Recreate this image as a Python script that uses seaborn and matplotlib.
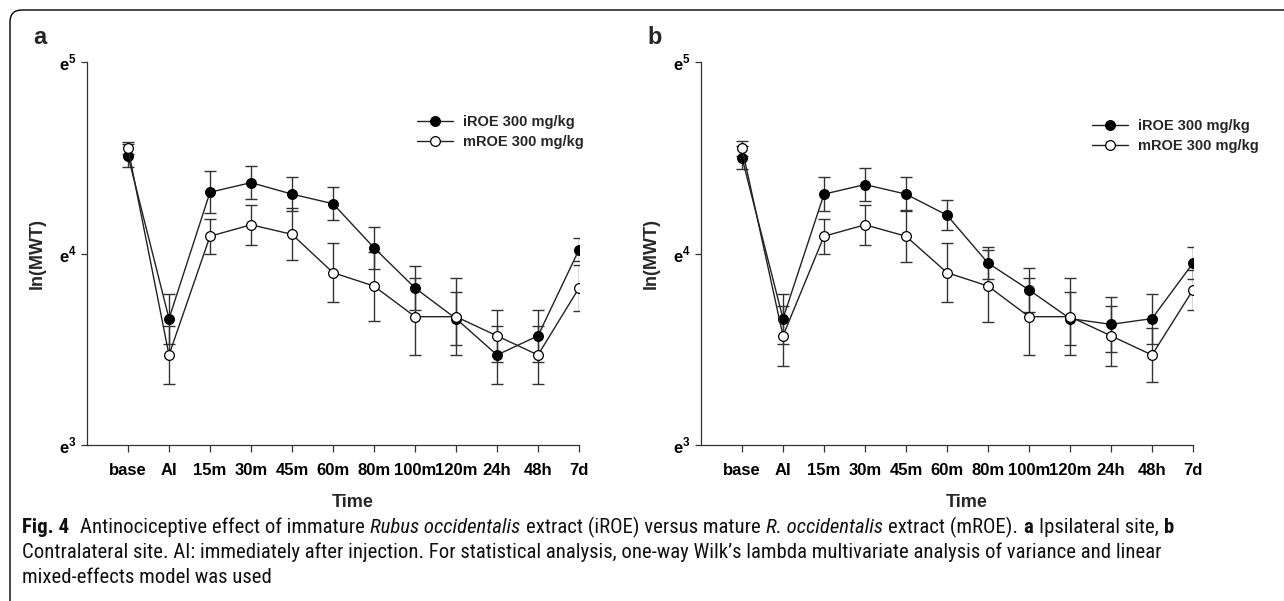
import matplotlib
matplotlib.use("Agg")
import matplotlib.pyplot as plt
import matplotlib.patches as mpatches
import matplotlib.transforms as mtransforms
from matplotlib.path import Path
from matplotlib import font_manager
import seaborn as sns

# time points on the x axis
times = ["base", "AI", "15m", "30m", "45m", "60m", "80m", "100m", "120m", "24h", "48h", "7d"]

# panel a: ipsilateral site, values in ln(MWT) units
a_iroe = [4.51, 3.66, 4.32, 4.37, 4.31, 4.26, 4.03, 3.82, 3.66, 3.47, 3.57, 4.02]
a_iroe_err = [0.06, 0.13, 0.11, 0.085, 0.09, 0.085, 0.11, 0.113, 0.14, 0.15, 0.135, 0.06]
a_mroe = [4.55, 3.47, 4.09, 4.15, 4.10, 3.90, 3.83, 3.67, 3.67, 3.57, 3.47, 3.82]
a_mroe_err = [0.03, 0.15, 0.09, 0.105, 0.135, 0.155, 0.18, 0.20, 0.20, 0.135, 0.15, 0.12]

# panel b: contralateral site
b_iroe = [4.50, 3.66, 4.31, 4.36, 4.31, 4.20, 3.95, 3.81, 3.66, 3.63, 3.66, 3.95]
b_iroe_err = [0.06, 0.13, 0.087, 0.085, 0.089, 0.078, 0.085, 0.115, 0.14, 0.145, 0.13, 0.085]
b_mroe = [4.55, 3.57, 4.09, 4.15, 4.09, 3.90, 3.83, 3.67, 3.67, 3.57, 3.47, 3.81]
b_mroe_err = [0.04, 0.155, 0.09, 0.105, 0.136, 0.153, 0.186, 0.20, 0.20, 0.157, 0.14, 0.105]

series_names = ["iROE 300 mg/kg", "mROE 300 mg/kg"]
y_ticks = [3, 4, 5]
y_ticklabels = [r"$\mathbf{e}^{\mathbf{3}}$", r"$\mathbf{e}^{\mathbf{4}}$", r"$\mathbf{e}^{\mathbf{5}}$"]

sns.set_style("ticks")
plt.rcParams["font.family"] = ["Liberation Sans", "DejaVu Sans"]
plt.rcParams["mathtext.fontset"] = "custom"
plt.rcParams["mathtext.bf"] = "Liberation Sans:bold"
plt.rcParams["mathtext.rm"] = "Liberation Sans"

W, H = 1284, 601
fig = plt.figure(figsize=(W / 100, H / 100), dpi=100)

LINE = "#222222"
xpos = list(range(len(times)))


def panel(left_px, iroe, iroe_err, mroe, mroe_err, letter, leg_anchor):
    ax = fig.add_axes([left_px / W, 1 - 445 / H, 492 / W, 383 / H])
    for vals, errs, face, name in [(iroe, iroe_err, "black", series_names[0]),
                                   (mroe, mroe_err, "white", series_names[1])]:
        ax.errorbar(xpos, vals, yerr=errs, fmt="none", ecolor="#333333",
                    elinewidth=1.0, capsize=4.5, capthick=1.0, zorder=2)
        sns.lineplot(x=xpos, y=vals, ax=ax, color=LINE, linewidth=1.0,
                     marker="o", markersize=7, markerfacecolor=face,
                     markeredgecolor="black", markeredgewidth=0.9,
                     label=name, zorder=3)
    ax.set_xlim(-1, 11)
    ax.set_ylim(3, 5)
    ax.set_xticks(xpos)
    ax.set_xticklabels(times, fontweight="bold", fontsize=12)
    ax.set_yticks(y_ticks)
    ax.set_yticklabels(y_ticklabels, fontsize=12)
    ax.tick_params(axis="x", length=5, width=0.9, pad=8, colors="#333333", labelcolor="black")
    ax.tick_params(axis="y", length=4.5, width=0.9, pad=3, colors="#333333", labelcolor="black")
    sns.despine(ax=ax)
    for s in ["left", "bottom"]:
        ax.spines[s].set_linewidth(0.9)
        ax.spines[s].set_color("#333333")
    ax.set_xlabel("Time", fontsize=13, fontweight="bold")
    ax.set_ylabel("ln(MWT)", fontsize=13, fontweight="bold")
    ax.xaxis.set_label_coords(0.54, -0.151)
    ax.xaxis.label.set_va("center")
    ax.yaxis.set_label_coords(-0.102, 0.5)
    ax.yaxis.label.set_va("center")
    ax.grid(False)
    ax.legend(loc="upper left", bbox_to_anchor=leg_anchor, frameon=False,
              prop={"weight": "bold", "size": 10.5}, handlelength=2.5,
              handletextpad=0.7, labelspacing=0.45, borderpad=0, borderaxespad=0)
    fig.text(left_px / W - 54 / W, 1 - 38 / H, letter, fontsize=17,
             fontweight="bold", va="center", ha="left")
    return ax


panel(87, a_iroe, a_iroe_err, a_mroe, a_mroe_err, "a", (0.670, 0.862))
panel(701, b_iroe, b_iroe_err, b_mroe, b_mroe_err, "b", (0.794, 0.852))

# frame: only the top and left edges with a rounded corner are on the page
ident = mtransforms.IdentityTransform()
frame_path = Path([(10, -6), (10, 579), (10, 591), (22, 591), (1300, 591)],
                  [Path.MOVETO, Path.LINETO, Path.CURVE3, Path.CURVE3, Path.LINETO])
fig.patches.append(mpatches.PathPatch(frame_path, transform=ident, facecolor="none",
                                      edgecolor="black", linewidth=1.0))

# caption, in a condensed face if one is installed
fonts = font_manager.fontManager.ttflist
names = {f.name for f in fonts}
cap_family, cap_stretch = "Liberation Sans", "normal"
for cand in ["Liberation Sans Narrow", "Roboto Condensed", "Open Sans Condensed"]:
    if cand in names:
        cap_family = cand
        break
else:
    if any(f.name == "DejaVu Sans" and f.stretch == "condensed" for f in fonts):
        cap_family, cap_stretch = "DejaVu Sans", "condensed"

renderer = fig.canvas.get_renderer()

line1 = [("Fig. 4", "bold", "normal", 2.0),
         ("Antinociceptive effect of immature", "normal", "normal", 1.0),
         ("Rubus occidentalis", "normal", "italic", 1.0),
         ("extract (iROE) versus mature", "normal", "normal", 1.0),
         ("R. occidentalis", "normal", "italic", 1.0),
         ("extract (mROE).", "normal", "normal", 1.0),
         ("a", "bold", "normal", 1.0),
         ("Ipsilateral site,", "normal", "normal", 1.0),
         ("b", "bold", "normal", 0.0)]
line2 = [("Contralateral site. AI: immediately after injection. For statistical analysis, "
          "one-way Wilk\u2019s lambda multivariate analysis of variance and linear", "normal", "normal", 0.0)]
line3 = [("mixed-effects model was used", "normal", "normal", 0.0)]


def draw_runs(runs, x, y_top, size):
    texts = []
    for txt, wt, st, gap in runs:
        t = fig.text(x, H - y_top, txt, transform=ident, fontsize=size, fontweight=wt,
                     fontstyle=st, family=cap_family, fontstretch=cap_stretch,
                     va="baseline", ha="left", color="#111111")
        texts.append(t)
        x += t.get_window_extent(renderer).width + gap * size * 0.26 * 100 / 72
    return texts, x


size = 12.5
tmp, xend = draw_runs(line1, 22, 533, size)
for t in tmp:
    t.remove()
size = size * (1180 - 22) / (xend - 22)
draw_runs(line1, 22, 533, size)
draw_runs(line2, 22, 558, size)
draw_runs(line3, 22, 583, size)

fig.savefig("out.png", dpi=100)
